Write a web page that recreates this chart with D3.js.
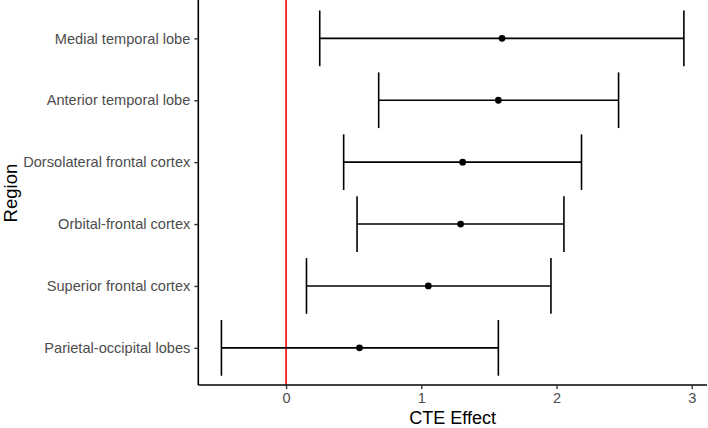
<!DOCTYPE html>
<html><head><meta charset="utf-8">
<script src="https://cdn.jsdelivr.net/npm/d3@7"></script>
<style>body{margin:0;background:#fff}svg{display:block}text{font-family:"Liberation Sans",Arial,sans-serif}</style>
</head><body><svg id="c" width="708" height="428"></svg>
<script>
const regions = ["Medial temporal lobe","Anterior temporal lobe","Dorsolateral frontal cortex","Orbital-frontal cortex","Superior frontal cortex","Parietal-occipital lobes"];
const estimate = [1.597, 1.570, 1.306, 1.291, 1.052, 0.543];
const lower = [0.249, 0.685, 0.426, 0.525, 0.151, -0.478];
const upper = [2.942, 2.459, 2.185, 2.055, 1.959, 1.570];
const xTicks = [0, 1, 2, 3];
const refLine = 0;

const svg = d3.select("#c");
const m = {left:198.3, right:707, top:1.2, bottom:385};
const lo = d3.min(lower), hi = d3.max(upper), pad = (hi-lo)*0.05;
const x = d3.scaleLinear().domain([lo-pad, hi+pad]).range([m.left, m.right]);
const y = d3.scalePoint().domain(regions).range([m.top, m.bottom]).padding(0.6);
const step = y.step();
const data = regions.map((r,i)=>({r, e:estimate[i], l:lower[i], u:upper[i]}));

// red reference line
svg.append("line").attr("x1",x(refLine)).attr("x2",x(refLine)).attr("y1",m.top-2).attr("y2",m.bottom)
  .attr("stroke","#ff0000").attr("stroke-width",1.6);

const g = svg.append("g").selectAll("g").data(data).join("g");
const cap = step*0.45;
g.append("line").attr("x1",d=>x(d.l)).attr("x2",d=>x(d.u)).attr("y1",d=>y(d.r)).attr("y2",d=>y(d.r))
  .attr("stroke","#000").attr("stroke-width",1.6);
g.append("line").attr("x1",d=>x(d.l)).attr("x2",d=>x(d.l)).attr("y1",d=>y(d.r)-cap).attr("y2",d=>y(d.r)+cap)
  .attr("stroke","#000").attr("stroke-width",1.6);
g.append("line").attr("x1",d=>x(d.u)).attr("x2",d=>x(d.u)).attr("y1",d=>y(d.r)-cap).attr("y2",d=>y(d.r)+cap)
  .attr("stroke","#000").attr("stroke-width",1.6);
g.append("circle").attr("cx",d=>x(d.e)).attr("cy",d=>y(d.r)).attr("r",3.4).attr("fill","#000");

// axes
const xa = svg.append("g").attr("transform",`translate(0,${m.bottom})`)
  .call(d3.axisBottom(x).tickValues(xTicks).tickFormat(d3.format("d")).tickSize(4).tickPadding(4).tickSizeOuter(0));
const ya = svg.append("g").attr("transform",`translate(${m.left},0)`)
  .call(d3.axisLeft(y).tickSize(4).tickPadding(4).tickSizeOuter(0));
[xa,ya].forEach(a=>{
  a.select(".domain").attr("stroke","#000").attr("stroke-width",1.6);
  a.selectAll(".tick line").attr("stroke","#333").attr("stroke-width",1.4);
  a.selectAll(".tick text").attr("fill","#4d4d4d").style("font-size","14.6px");
});
xa.select(".domain").attr("d",`M${m.left},0H${m.right}`);
ya.select(".domain").attr("d",`M0,${m.top-2}V${m.bottom}`);

svg.append("text").attr("x",(m.left+m.right)/2).attr("y",424).attr("text-anchor","middle")
  .style("font-size","18px").attr("fill","#000").text("CTE Effect");
svg.append("text").attr("transform",`translate(17,${(m.top+m.bottom)/2}) rotate(-90)`).attr("text-anchor","middle")
  .style("font-size","18.5px").attr("fill","#000").text("Region");
</script></body></html>
